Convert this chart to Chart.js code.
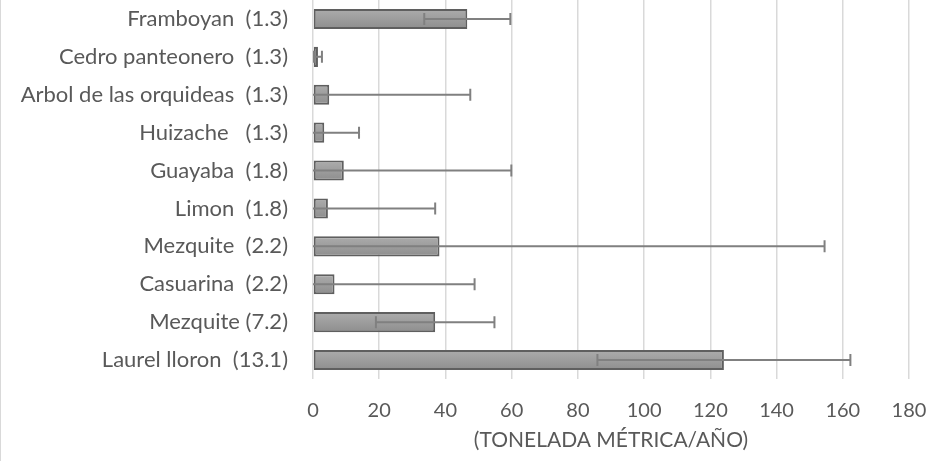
<!DOCTYPE html>
<html>
<head>
<meta charset="utf-8">
<script src="https://cdn.jsdelivr.net/npm/chart.js@4"></script>
<style>
  html, body { margin: 0; padding: 0; background: #fff; }
  #wrap { width: 935px; height: 461px; position: relative; }
</style>
</head>
<body>
<div id="wrap"><canvas id="chart"></canvas></div>
<script>
// ---------- data ----------
const labels = [
  "Framboyan  (1.3)",
  "Cedro panteonero  (1.3)",
  "Arbol de las orquideas  (1.3)",
  "Huizache   (1.3)",
  "Guayaba  (1.8)",
  "Limon  (1.8)",
  "Mezquite  (2.2)",
  "Casuarina  (2.2)",
  "Mezquite (7.2)",
  "Laurel lloron  (13.1)"
];
const values = [46.6, 1.5, 4.9, 3.4, 9.3, 4.5, 38.2, 6.5, 36.9, 124.1];
const errors = [13.0, 1.2, 42.6, 10.5, 50.6, 32.4, 116.3, 42.3, 17.9, 38.2];
const xTicks = [0, 20, 40, 60, 80, 100, 120, 140, 160, 180];
const xTitle = "(TONELADA MÉTRICA/AÑO)";

// ---------- styles ----------
const FONT = "Lato";
const TEXT = "#595959";
const GRID = "#d9d9d9";

// vertical gradient per bar, like the Excel fill
const barFill = (ctx) => {
  const chart = ctx.chart;
  if (!chart.chartArea || !chart.scales.y) return "#9b9b9b";
  const y = chart.scales.y.getPixelForValue(ctx.dataIndex);
  const g = chart.ctx.createLinearGradient(0, y - 10, 0, y + 10);
  g.addColorStop(0, "#acacac");
  g.addColorStop(1, "#8e8e8e");
  return g;
};

// ---------- plugins ----------
const errorBars = {
  id: "errorBars",
  afterDatasetsDraw(chart) {
    const { ctx, chartArea: a, scales: { x } } = chart;
    const meta = chart.getDatasetMeta(0);
    ctx.save();
    ctx.beginPath();
    ctx.rect(a.left, a.top, a.right - a.left, a.bottom - a.top);
    ctx.clip();
    ctx.strokeStyle = "#808080";
    ctx.lineWidth = 2;
    meta.data.forEach((bar, i) => {
      const y = bar.y;
      const x0 = x.getPixelForValue(values[i] - errors[i]);
      const x1 = x.getPixelForValue(values[i] + errors[i]);
      ctx.beginPath();
      ctx.moveTo(x0, y); ctx.lineTo(x1, y);
      ctx.moveTo(x0, y - 6); ctx.lineTo(x0, y + 6);
      ctx.moveTo(x1, y - 6); ctx.lineTo(x1, y + 6);
      ctx.stroke();
    });
    ctx.restore();
  }
};

const frameLine = {
  id: "frameLine",
  beforeDraw(chart) {
    const { ctx, height } = chart;
    ctx.save();
    ctx.strokeStyle = GRID;
    ctx.lineWidth = 1;
    ctx.beginPath();
    ctx.moveTo(0.5, 0); ctx.lineTo(0.5, height);
    ctx.stroke();
    ctx.restore();
  }
};

// ---------- chart ----------
new Chart(document.getElementById("chart").getContext("2d"), {
  type: "bar",
  data: {
    labels,
    datasets: [{
      data: values,
      backgroundColor: barFill,
      borderColor: "#5f5f5f",
      borderWidth: 2,
      borderSkipped: false,
      categoryPercentage: 1,
      barPercentage: 0.53
    }]
  },
  options: {
    indexAxis: "y",
    responsive: true,
    maintainAspectRatio: false,
    animation: false,
    layout: { padding: { left: 0, right: 26, top: 0, bottom: 0 } },
    plugins: { legend: { display: false }, tooltip: { enabled: false } },
    scales: {
      x: {
        min: 0, max: 180,
        afterBuildTicks: (s) => { s.ticks = xTicks.map(v => ({ value: v })); },
        afterFit: (s) => { s.height = 82; s.paddingLeft = 0; s.paddingRight = 0; },
        grid: { color: GRID, lineWidth: 1.5, drawTicks: false },
        border: { display: false },
        ticks: { color: TEXT, font: { family: FONT, size: 20 }, padding: 20 },
        title: {
          display: true, text: xTitle, color: TEXT,
          font: { family: FONT, size: 21 }, padding: { top: 0, bottom: 8 }
        }
      },
      y: {
        afterFit: (s) => { s.width = 313; s.paddingTop = 0; s.paddingBottom = 0; },
        grid: { display: false, drawTicks: false },
        border: { display: false },
        ticks: { color: TEXT, font: { family: FONT, size: 22 }, padding: 25 }
      }
    }
  },
  plugins: [errorBars, frameLine]
});
</script>
</body>
</html>
